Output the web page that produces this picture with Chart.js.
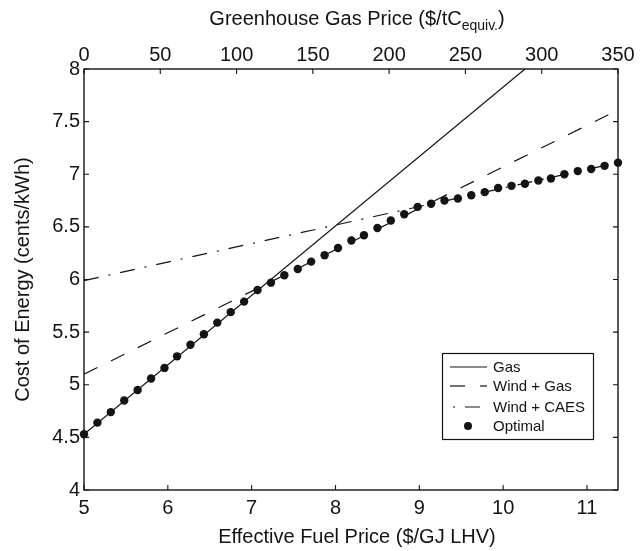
<!DOCTYPE html>
<html>
<head>
<meta charset="utf-8">
<title>Cost of Energy vs Fuel Price</title>
<script src="https://cdn.jsdelivr.net/npm/chart.js@4.4.1/dist/chart.umd.min.js"></script>
<style>
  html, body { margin: 0; padding: 0; background: #fff; }
  #wrap { width: 644px; height: 551px; }
</style>
</head>
<body>
<div id="wrap"><canvas id="c" width="644" height="551"></canvas></div>
<script>
// Effective fuel price ($/GJ LHV) of each optimal-design point
const fuelPrice = [
  5.00, 5.16, 5.32, 5.48, 5.64, 5.80, 5.96, 6.11, 6.27, 6.43,
  6.59, 6.75, 6.91, 7.07, 7.23, 7.39, 7.55, 7.71, 7.87, 8.03,
  8.19, 8.34, 8.50, 8.66, 8.82, 8.98, 9.14, 9.30, 9.46, 9.62,
  9.78, 9.94, 10.10, 10.26, 10.42, 10.57, 10.73, 10.89, 11.05, 11.21,
  11.37
];
// Cost of energy (cents/kWh) of the optimal design
const optimalCost = [
  4.53, 4.64, 4.74, 4.85, 4.95, 5.06, 5.16, 5.27, 5.38, 5.48,
  5.59, 5.69, 5.79, 5.90, 5.97, 6.04, 6.10, 6.17, 6.23, 6.30,
  6.37, 6.42, 6.49, 6.56, 6.62, 6.69, 6.72, 6.75, 6.77, 6.80,
  6.83, 6.87, 6.89, 6.91, 6.94, 6.96, 7.00, 7.03, 7.05, 7.08,
  7.11
];
// Single-technology cost lines
const gasFuel = [5.00, 10.26];
const gasCost = [4.53, 8.00];
const windGasFuel = [5.00, 11.37];
const windGasCost = [5.10, 7.61];
const windCaesFuel = [5.00, 11.37];
const windCaesCost = [5.99, 7.11];

// Axis ticks
const fuelTicks = [5, 6, 7, 8, 9, 10, 11];
const ghgTicks = [0, 50, 100, 150, 200, 250, 300, 350];
const costTicks = [4, 4.5, 5, 5.5, 6, 6.5, 7, 7.5, 8];

const FONT = '"Liberation Sans", Arial, Helvetica, sans-serif';
const INK = '#141414';

const pts = (xs, ys) => xs.map((x, i) => ({ x: x, y: ys[i] }));

const dashStyles = {
  'Gas': [],
  'Wind + Gas': [15, 15],
  'Wind + CAES': [15, 10, 2, 10]
};

// Box, inward ticks, axis titles and legend
const decor = {
  id: 'decor',
  afterDraw(chart) {
    const ctx = chart.ctx;
    const a = chart.chartArea;
    const sx = chart.scales.x, sx2 = chart.scales.x2, sy = chart.scales.y;
    ctx.save();
    ctx.strokeStyle = INK;
    ctx.lineWidth = 1.4;
    ctx.setLineDash([]);
    ctx.strokeRect(a.left, a.top, a.right - a.left, a.bottom - a.top);

    const tl = 5;
    ctx.lineWidth = 1.1;
    ctx.beginPath();
    fuelTicks.forEach(v => {
      const px = sx.getPixelForValue(v);
      ctx.moveTo(px, a.bottom); ctx.lineTo(px, a.bottom - tl);
    });
    ghgTicks.forEach(v => {
      const px = sx2.getPixelForValue(v);
      ctx.moveTo(px, a.top); ctx.lineTo(px, a.top + tl);
    });
    costTicks.forEach(v => {
      const py = sy.getPixelForValue(v);
      ctx.moveTo(a.left, py); ctx.lineTo(a.left + tl, py);
      ctx.moveTo(a.right, py); ctx.lineTo(a.right - tl, py);
    });
    ctx.stroke();

    // Axis titles
    ctx.fillStyle = INK;
    ctx.textBaseline = 'alphabetic';
    ctx.font = '20px ' + FONT;
    const cx = (a.left + a.right) / 2 + 6;
    ctx.textAlign = 'center';
    ctx.fillText('Effective Fuel Price ($/GJ LHV)', cx, 543);

    // Top title with subscript
    const mainA = 'Greenhouse Gas Price ($/tC';
    const sub = 'equiv.';
    const mainB = ')';
    ctx.font = '20px ' + FONT;
    const wA = ctx.measureText(mainA).width;
    const wB = ctx.measureText(mainB).width;
    ctx.font = '14px ' + FONT;
    const wS = ctx.measureText(sub).width;
    let x0 = cx - (wA + wS + wB) / 2;
    ctx.textAlign = 'left';
    ctx.font = '20px ' + FONT;
    ctx.fillText(mainA, x0, 25);
    ctx.font = '14px ' + FONT;
    ctx.fillText(sub, x0 + wA, 30);
    ctx.font = '20px ' + FONT;
    ctx.fillText(mainB, x0 + wA + wS, 25);

    // Y title
    ctx.save();
    ctx.translate(29, (a.top + a.bottom) / 2);
    ctx.rotate(-Math.PI / 2);
    ctx.textAlign = 'center';
    ctx.font = '20px ' + FONT;
    ctx.fillText('Cost of Energy (cents/kWh)', 0, 0);
    ctx.restore();

    // Legend
    const lx = 442, ly = 353, lw = 151, lh = 86;
    ctx.fillStyle = '#fff';
    ctx.fillRect(lx, ly, lw, lh);
    ctx.strokeStyle = INK;
    ctx.lineWidth = 1.2;
    ctx.strokeRect(lx + 0.5, ly + 0.5, lw, lh);
    const rows = [367, 386, 407, 426];
    chart.data.datasets.forEach((ds, i) => {
      const y = rows[i];
      ctx.strokeStyle = INK;
      ctx.fillStyle = INK;
      if (ds.showLine === false) {
        ctx.beginPath();
        ctx.arc(468, y, 4, 0, Math.PI * 2);
        ctx.fill();
      } else {
        ctx.lineWidth = 1.2;
        ctx.setLineDash(dashStyles[ds.label]);
        ctx.lineDashOffset = ds.label === 'Wind + CAES' ? 22 : 0;
        ctx.beginPath();
        ctx.moveTo(450, y); ctx.lineTo(487, y);
        ctx.stroke();
        ctx.setLineDash([]);
        ctx.lineDashOffset = 0;
      }
      ctx.font = '15px ' + FONT;
      ctx.textAlign = 'left';
      ctx.textBaseline = 'middle';
      ctx.fillText(ds.label, 493, y + 1);
    });
    ctx.restore();
  }
};

const lineSet = (label, xs, ys) => ({
  label: label,
  data: pts(xs, ys),
  showLine: true,
  borderColor: INK,
  borderWidth: 1.2,
  borderDash: dashStyles[label],
  pointRadius: 0,
  fill: false,
  tension: 0,
  xAxisID: 'x',
  yAxisID: 'y'
});

const plainLabel = v => String(v);

new Chart(document.getElementById('c'), {
  type: 'scatter',
  data: {
    datasets: [
      lineSet('Gas', gasFuel, gasCost),
      lineSet('Wind + Gas', windGasFuel, windGasCost),
      lineSet('Wind + CAES', windCaesFuel, windCaesCost),
      {
        label: 'Optimal',
        data: pts(fuelPrice, optimalCost),
        showLine: false,
        pointRadius: 4.2,
        pointBorderWidth: 0,
        pointBackgroundColor: INK,
        pointBorderColor: INK,
        clip: false,
        order: -1,
        xAxisID: 'x',
        yAxisID: 'y'
      }
    ]
  },
  options: {
    responsive: false,
    animation: false,
    devicePixelRatio: 1,
    layout: { padding: { left: 0, right: 26, top: 0, bottom: 0 } },
    plugins: { legend: { display: false }, tooltip: { enabled: false } },
    scales: {
      x: {
        type: 'linear', position: 'bottom', min: 5, max: 11.37,
        grid: { display: false, drawTicks: false }, border: { display: false },
        afterBuildTicks: s => { s.ticks = fuelTicks.map(v => ({ value: v })); },
        afterFit: s => { s.height = 61; },
        ticks: { color: INK, font: { family: FONT, size: 20 }, padding: 6, maxRotation: 0, autoSkip: false, callback: plainLabel }
      },
      x2: {
        type: 'linear', position: 'top', min: 0, max: 350,
        grid: { display: false, drawTicks: false }, border: { display: false },
        afterBuildTicks: s => { s.ticks = ghgTicks.map(v => ({ value: v })); },
        afterFit: s => { s.height = 69; },
        ticks: { color: INK, font: { family: FONT, size: 20 }, padding: 2, maxRotation: 0, autoSkip: false, callback: plainLabel }
      },
      y: {
        type: 'linear', position: 'left', min: 4, max: 8,
        grid: { display: false, drawTicks: false }, border: { display: false },
        afterBuildTicks: s => { s.ticks = costTicks.map(v => ({ value: v })); },
        afterFit: s => { s.width = 84; },
        ticks: { color: INK, font: { family: FONT, size: 20 }, padding: 4, autoSkip: false, callback: plainLabel }
      }
    }
  },
  plugins: [decor]
});
</script>
</body>
</html>
